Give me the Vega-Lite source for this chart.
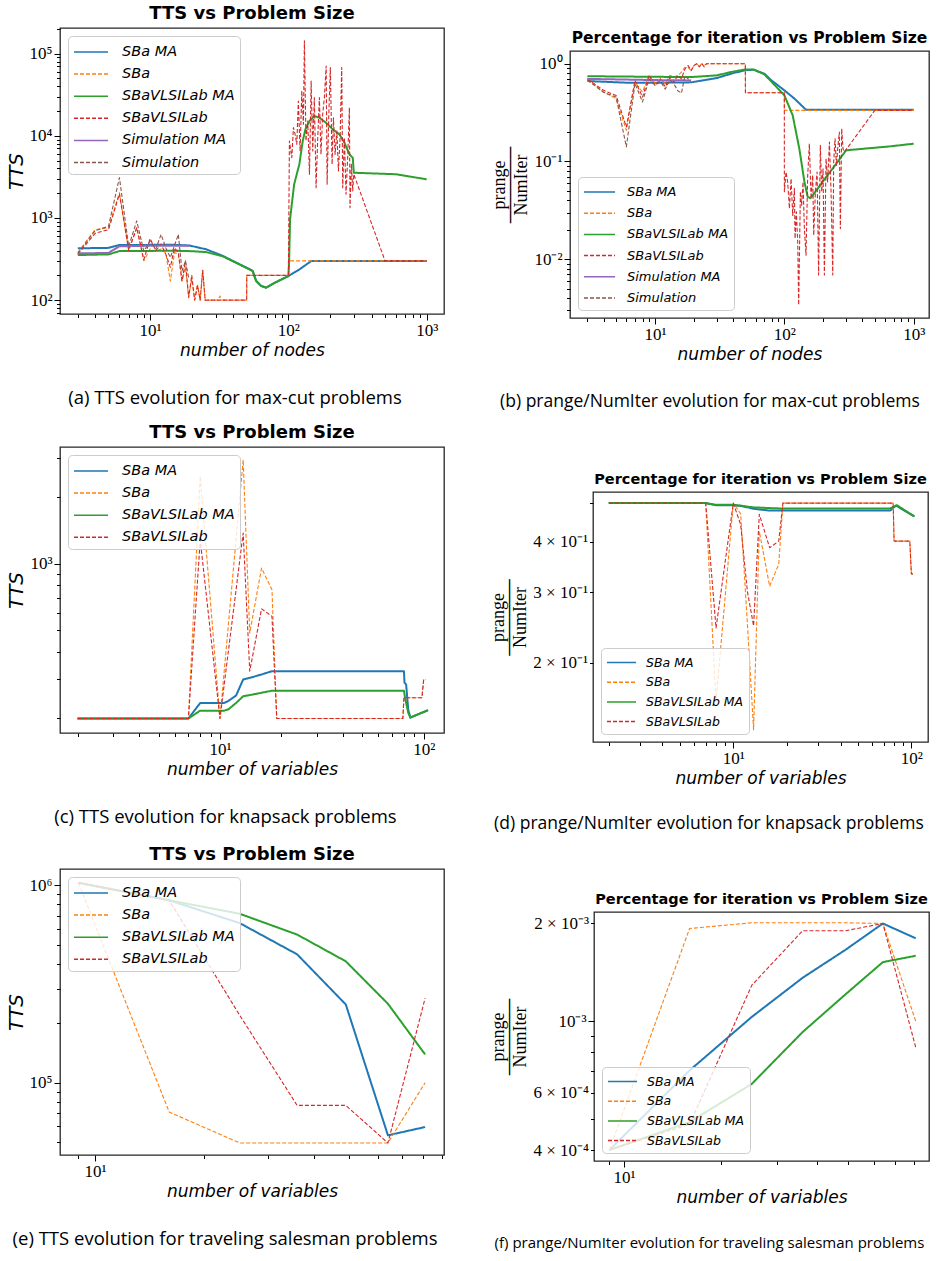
{
"$schema": "https://vega.github.io/schema/vega-lite/v6.json",
"padding": {"left": 5, "top": 4, "right": 4, "bottom": 4},
"config": {
 "font": "DejaVu Sans",
 "view": {"stroke": "#262626", "strokeWidth": 1.3},
 "axis": {"domain": false, "grid": false, "labelFont": "Liberation Serif", "labelFontSize": 17, "labelColor": "#000", "tickColor": "#000", "tickWidth": 1, "labelOverlap": false, "labelFlush": false, "labelPadding": 2, "titleFont": "DejaVu Sans", "titleFontStyle": "italic", "titleFontWeight": "normal", "titleFontSize": 17, "titleColor": "#000"},
 "axisY": {"titleFontSize": 20, "titlePadding": 3},
 "axisX": {"titlePadding": 4},
 "title": {"font": "DejaVu Sans", "fontSize": 18, "fontWeight": "bold", "color": "#000", "offset": 5},
 "legend": {"labelFont": "DejaVu Sans", "labelFontStyle": "italic", "labelColor": "#000", "fillColor": "rgba(255,255,255,0.8)", "strokeColor": "#cccccc", "cornerRadius": 4},
 "line": {"strokeCap": "butt", "strokeJoin": "round", "clip": true}
},
"datasets": {
 "a": [
  {"s":"SBa MA","x":3,"y":427},{"s":"SBa MA","x":5,"y":432},{"s":"SBa MA","x":6,"y":468},{"s":"SBa MA","x":10,"y":470},{"s":"SBa MA","x":15,"y":470},{"s":"SBa MA","x":19.2,"y":462},{"s":"SBa MA","x":25.4,"y":415},{"s":"SBa MA","x":33.6,"y":345},{"s":"SBa MA","x":41.9,"y":286},{"s":"SBa MA","x":52.3,"y":238},{"s":"SBa MA","x":55.2,"y":226},{"s":"SBa MA","x":58.4,"y":172},{"s":"SBa MA","x":63.5,"y":149},{"s":"SBa MA","x":69,"y":142},{"s":"SBa MA","x":80,"y":163},{"s":"SBa MA","x":100,"y":196},{"s":"SBa MA","x":120,"y":236},{"s":"SBa MA","x":146,"y":298},{"s":"SBa MA","x":1000,"y":298},
  {"s":"SBa","x":3,"y":380},{"s":"SBa","x":4,"y":720},{"s":"SBa","x":5,"y":760},{"s":"SBa","x":6,"y":2030},{"s":"SBa","x":7,"y":410},{"s":"SBa","x":8,"y":760},{"s":"SBa","x":9,"y":300},{"s":"SBa","x":10,"y":420},{"s":"SBa","x":11,"y":390},{"s":"SBa","x":12,"y":420},{"s":"SBa","x":13,"y":370},{"s":"SBa","x":14,"y":170},{"s":"SBa","x":15,"y":380},{"s":"SBa","x":16,"y":360},{"s":"SBa","x":17,"y":170},{"s":"SBa","x":18,"y":250},{"s":"SBa","x":19,"y":110},{"s":"SBa","x":20,"y":180},{"s":"SBa","x":21,"y":100},{"s":"SBa","x":22,"y":155},{"s":"SBa","x":23,"y":100},{"s":"SBa","x":24,"y":230},{"s":"SBa","x":25,"y":100},{"s":"SBa","x":31,"y":100},{"s":"SBa","x":32,"y":112},{"s":"SBa","x":33,"y":100},{"s":"SBa","x":49.9,"y":100},{"s":"SBa","x":50,"y":200},{"s":"SBa","x":99.9,"y":200},{"s":"SBa","x":100,"y":300},{"s":"SBa","x":1000,"y":300},
  {"s":"SBaVLSILab MA","x":3,"y":353},{"s":"SBaVLSILab MA","x":5,"y":360},{"s":"SBaVLSILab MA","x":6,"y":395},{"s":"SBaVLSILab MA","x":10,"y":397},{"s":"SBaVLSILab MA","x":15,"y":398},{"s":"SBaVLSILab MA","x":19.2,"y":395},{"s":"SBaVLSILab MA","x":25.4,"y":384},{"s":"SBaVLSILab MA","x":33.6,"y":340},{"s":"SBaVLSILab MA","x":41.9,"y":284},{"s":"SBaVLSILab MA","x":52.3,"y":236},{"s":"SBaVLSILab MA","x":55.2,"y":225},{"s":"SBaVLSILab MA","x":58.4,"y":170},{"s":"SBaVLSILab MA","x":63.5,"y":148},{"s":"SBaVLSILab MA","x":69,"y":141},{"s":"SBaVLSILab MA","x":80,"y":163},{"s":"SBaVLSILab MA","x":100,"y":196},{"s":"SBaVLSILab MA","x":101,"y":260},{"s":"SBaVLSILab MA","x":102.8,"y":962},{"s":"SBaVLSILab MA","x":110,"y":2565},{"s":"SBaVLSILab MA","x":120,"y":4500},{"s":"SBaVLSILab MA","x":127,"y":8650},{"s":"SBaVLSILab MA","x":132.8,"y":12000},{"s":"SBaVLSILab MA","x":142,"y":15100},{"s":"SBaVLSILab MA","x":154,"y":17400},{"s":"SBaVLSILab MA","x":167.6,"y":16600},{"s":"SBaVLSILab MA","x":187,"y":14400},{"s":"SBaVLSILab MA","x":209,"y":12000},{"s":"SBaVLSILab MA","x":234,"y":10400},{"s":"SBaVLSILab MA","x":254,"y":8250},{"s":"SBaVLSILab MA","x":276,"y":5960},{"s":"SBaVLSILab MA","x":292,"y":5400},{"s":"SBaVLSILab MA","x":297,"y":3550},{"s":"SBaVLSILab MA","x":601,"y":3400},{"s":"SBaVLSILab MA","x":1000,"y":2950},
  {"s":"SBaVLSILab","x":3,"y":360},{"s":"SBaVLSILab","x":4,"y":650},{"s":"SBaVLSILab","x":5,"y":720},{"s":"SBaVLSILab","x":6,"y":1950},{"s":"SBaVLSILab","x":7,"y":400},{"s":"SBaVLSILab","x":8,"y":760},{"s":"SBaVLSILab","x":9,"y":310},{"s":"SBaVLSILab","x":10,"y":560},{"s":"SBaVLSILab","x":11,"y":400},{"s":"SBaVLSILab","x":12,"y":480},{"s":"SBaVLSILab","x":13,"y":360},{"s":"SBaVLSILab","x":14,"y":250},{"s":"SBaVLSILab","x":15,"y":430},{"s":"SBaVLSILab","x":16,"y":380},{"s":"SBaVLSILab","x":17,"y":170},{"s":"SBaVLSILab","x":18,"y":300},{"s":"SBaVLSILab","x":19,"y":107},{"s":"SBaVLSILab","x":20,"y":200},{"s":"SBaVLSILab","x":21,"y":100},{"s":"SBaVLSILab","x":22,"y":150},{"s":"SBaVLSILab","x":23,"y":100},{"s":"SBaVLSILab","x":24,"y":230},{"s":"SBaVLSILab","x":25,"y":100},{"s":"SBaVLSILab","x":49.9,"y":100},{"s":"SBaVLSILab","x":50,"y":200},{"s":"SBaVLSILab","x":100,"y":200},{"s":"SBaVLSILab","x":101.7,"y":8650},{"s":"SBaVLSILab","x":105.8,"y":5400},{"s":"SBaVLSILab","x":108.7,"y":12600},{"s":"SBaVLSILab","x":111.8,"y":10400},{"s":"SBaVLSILab","x":115,"y":7870},{"s":"SBaVLSILab","x":118,"y":26500},{"s":"SBaVLSILab","x":121.5,"y":6530},{"s":"SBaVLSILab","x":125,"y":35200},{"s":"SBaVLSILab","x":128.4,"y":13800},{"s":"SBaVLSILab","x":130.5,"y":143000},{"s":"SBaVLSILab","x":134,"y":8650},{"s":"SBaVLSILab","x":138,"y":15100},{"s":"SBaVLSILab","x":142,"y":3400},{"s":"SBaVLSILab","x":146,"y":46500},{"s":"SBaVLSILab","x":150,"y":6530},{"s":"SBaVLSILab","x":154,"y":29100},{"s":"SBaVLSILab","x":158.5,"y":2330},{"s":"SBaVLSILab","x":163,"y":9490},{"s":"SBaVLSILab","x":167.5,"y":29100},{"s":"SBaVLSILab","x":172,"y":5940},{"s":"SBaVLSILab","x":177,"y":18300},{"s":"SBaVLSILab","x":182,"y":29100},{"s":"SBaVLSILab","x":187.5,"y":70800},{"s":"SBaVLSILab","x":190.5,"y":2570},{"s":"SBaVLSILab","x":196,"y":18300},{"s":"SBaVLSILab","x":201,"y":67600},{"s":"SBaVLSILab","x":207,"y":4500},{"s":"SBaVLSILab","x":211.6,"y":16600},{"s":"SBaVLSILab","x":217.6,"y":5940},{"s":"SBaVLSILab","x":224,"y":11400},{"s":"SBaVLSILab","x":230,"y":3720},{"s":"SBaVLSILab","x":236.5,"y":9490},{"s":"SBaVLSILab","x":243,"y":67600},{"s":"SBaVLSILab","x":247,"y":2330},{"s":"SBaVLSILab","x":254,"y":9490},{"s":"SBaVLSILab","x":261,"y":1940},{"s":"SBaVLSILab","x":269,"y":5940},{"s":"SBaVLSILab","x":276,"y":22000},{"s":"SBaVLSILab","x":279,"y":1330},{"s":"SBaVLSILab","x":285.5,"y":4500},{"s":"SBaVLSILab","x":292,"y":2130},{"s":"SBaVLSILab","x":297,"y":3400},{"s":"SBaVLSILab","x":500,"y":300},{"s":"SBaVLSILab","x":1000,"y":300},
  {"s":"Simulation MA","x":3,"y":370},{"s":"Simulation MA","x":5,"y":375},{"s":"Simulation MA","x":6,"y":452},{"s":"Simulation MA","x":10,"y":458},{"s":"Simulation MA","x":19.2,"y":460},
  {"s":"Simulation","x":3,"y":370},{"s":"Simulation","x":4,"y":700},{"s":"Simulation","x":5,"y":790},{"s":"Simulation","x":6,"y":3090},{"s":"Simulation","x":7,"y":450},{"s":"Simulation","x":8,"y":920},{"s":"Simulation","x":9,"y":395},{"s":"Simulation","x":10,"y":520},{"s":"Simulation","x":11,"y":420},{"s":"Simulation","x":12,"y":630},{"s":"Simulation","x":13,"y":430},{"s":"Simulation","x":14,"y":330},{"s":"Simulation","x":15,"y":460},{"s":"Simulation","x":16,"y":630},{"s":"Simulation","x":17,"y":225},{"s":"Simulation","x":18,"y":300},{"s":"Simulation","x":19,"y":187}
 ],
 "b": [
  {"s":"SBa MA","x":3,"y":0.665},{"s":"SBa MA","x":6,"y":0.64},{"s":"SBa MA","x":12,"y":0.64},{"s":"SBa MA","x":19,"y":0.645},{"s":"SBa MA","x":30,"y":0.714},{"s":"SBa MA","x":40,"y":0.8},{"s":"SBa MA","x":50,"y":0.86},{"s":"SBa MA","x":58,"y":0.868},{"s":"SBa MA","x":70,"y":0.79},{"s":"SBa MA","x":79,"y":0.68},{"s":"SBa MA","x":100,"y":0.534},{"s":"SBa MA","x":119.5,"y":0.44},{"s":"SBa MA","x":147,"y":0.338},{"s":"SBa MA","x":1000,"y":0.338},
  {"s":"SBa","x":3,"y":0.7},{"s":"SBa","x":4,"y":0.513},{"s":"SBa","x":5,"y":0.44},{"s":"SBa","x":6,"y":0.208},{"s":"SBa","x":7,"y":0.65},{"s":"SBa","x":8,"y":0.513},{"s":"SBa","x":9,"y":0.76},{"s":"SBa","x":10,"y":0.625},{"s":"SBa","x":11,"y":0.7},{"s":"SBa","x":12,"y":0.625},{"s":"SBa","x":13,"y":0.76},{"s":"SBa","x":14,"y":0.73},{"s":"SBa","x":15,"y":0.76},{"s":"SBa","x":16,"y":0.82},{"s":"SBa","x":17,"y":0.92},{"s":"SBa","x":18,"y":0.92},{"s":"SBa","x":19,"y":0.85},{"s":"SBa","x":20,"y":0.96},{"s":"SBa","x":21,"y":1.0},{"s":"SBa","x":22,"y":0.95},{"s":"SBa","x":23,"y":1.0},{"s":"SBa","x":24,"y":0.96},{"s":"SBa","x":25,"y":1.0},{"s":"SBa","x":49.9,"y":1.0},{"s":"SBa","x":50,"y":0.505},{"s":"SBa","x":99.9,"y":0.505},{"s":"SBa","x":100,"y":0.333},{"s":"SBa","x":1000,"y":0.333},
  {"s":"SBaVLSILab MA","x":3,"y":0.745},{"s":"SBaVLSILab MA","x":10,"y":0.735},{"s":"SBaVLSILab MA","x":19,"y":0.73},{"s":"SBaVLSILab MA","x":30,"y":0.76},{"s":"SBaVLSILab MA","x":40,"y":0.83},{"s":"SBaVLSILab MA","x":50,"y":0.875},{"s":"SBaVLSILab MA","x":58,"y":0.87},{"s":"SBaVLSILab MA","x":70,"y":0.78},{"s":"SBaVLSILab MA","x":79,"y":0.66},{"s":"SBaVLSILab MA","x":100,"y":0.475},{"s":"SBaVLSILab MA","x":116,"y":0.296},{"s":"SBaVLSILab MA","x":130.5,"y":0.135},{"s":"SBaVLSILab MA","x":143,"y":0.0616},{"s":"SBaVLSILab MA","x":151.5,"y":0.0435},{"s":"SBaVLSILab MA","x":159,"y":0.042},{"s":"SBaVLSILab MA","x":181,"y":0.0528},{"s":"SBaVLSILab MA","x":216,"y":0.0724},{"s":"SBaVLSILab MA","x":258,"y":0.099},{"s":"SBaVLSILab MA","x":300,"y":0.13},{"s":"SBaVLSILab MA","x":668,"y":0.143},{"s":"SBaVLSILab MA","x":1000,"y":0.152},
  {"s":"SBaVLSILab","x":3,"y":0.7},{"s":"SBaVLSILab","x":4,"y":0.534},{"s":"SBaVLSILab","x":5,"y":0.474},{"s":"SBaVLSILab","x":6,"y":0.225},{"s":"SBaVLSILab","x":7,"y":0.676},{"s":"SBaVLSILab","x":8,"y":0.456},{"s":"SBaVLSILab","x":9,"y":0.76},{"s":"SBaVLSILab","x":10,"y":0.6},{"s":"SBaVLSILab","x":11,"y":0.7},{"s":"SBaVLSILab","x":12,"y":0.58},{"s":"SBaVLSILab","x":13,"y":0.72},{"s":"SBaVLSILab","x":14,"y":0.65},{"s":"SBaVLSILab","x":15,"y":0.76},{"s":"SBaVLSILab","x":16,"y":0.7},{"s":"SBaVLSILab","x":17,"y":0.88},{"s":"SBaVLSILab","x":18,"y":0.96},{"s":"SBaVLSILab","x":19,"y":0.85},{"s":"SBaVLSILab","x":20,"y":0.96},{"s":"SBaVLSILab","x":21,"y":1.0},{"s":"SBaVLSILab","x":22,"y":0.93},{"s":"SBaVLSILab","x":23,"y":1.0},{"s":"SBaVLSILab","x":24,"y":0.93},{"s":"SBaVLSILab","x":25,"y":1.0},{"s":"SBaVLSILab","x":49.9,"y":1.0},{"s":"SBaVLSILab","x":50,"y":0.505},{"s":"SBaVLSILab","x":99.9,"y":0.505},{"s":"SBaVLSILab","x":100,"y":0.049},{"s":"SBaVLSILab","x":103,"y":0.0781},{"s":"SBaVLSILab","x":106,"y":0.0617},{"s":"SBaVLSILab","x":109.4,"y":0.033},{"s":"SBaVLSILab","x":112.7,"y":0.0665},{"s":"SBaVLSILab","x":116,"y":0.028},{"s":"SBaVLSILab","x":119.5,"y":0.053},{"s":"SBaVLSILab","x":121,"y":0.0163},{"s":"SBaVLSILab","x":123.8,"y":0.0305},{"s":"SBaVLSILab","x":126.8,"y":0.0151},{"s":"SBaVLSILab","x":129,"y":0.0034},{"s":"SBaVLSILab","x":133,"y":0.049},{"s":"SBaVLSILab","x":136,"y":0.0357},{"s":"SBaVLSILab","x":139.4,"y":0.0617},{"s":"SBaVLSILab","x":142.8,"y":0.0205},{"s":"SBaVLSILab","x":147,"y":0.011},{"s":"SBaVLSILab","x":151.5,"y":0.0723},{"s":"SBaVLSILab","x":156,"y":0.152},{"s":"SBaVLSILab","x":160.8,"y":0.0417},{"s":"SBaVLSILab","x":165.6,"y":0.0723},{"s":"SBaVLSILab","x":168.6,"y":0.0176},{"s":"SBaVLSILab","x":173.7,"y":0.049},{"s":"SBaVLSILab","x":179,"y":0.0781},{"s":"SBaVLSILab","x":184,"y":0.0069},{"s":"SBaVLSILab","x":189.7,"y":0.146},{"s":"SBaVLSILab","x":194.4,"y":0.049},{"s":"SBaVLSILab","x":199,"y":0.0843},{"s":"SBaVLSILab","x":203.9,"y":0.0069},{"s":"SBaVLSILab","x":210,"y":0.107},{"s":"SBaVLSILab","x":216,"y":0.0617},{"s":"SBaVLSILab","x":223,"y":0.158},{"s":"SBaVLSILab","x":229.6,"y":0.049},{"s":"SBaVLSILab","x":236.6,"y":0.0069},{"s":"SBaVLSILab","x":240.6,"y":0.0987},{"s":"SBaVLSILab","x":246.5,"y":0.171},{"s":"SBaVLSILab","x":252.6,"y":0.091},{"s":"SBaVLSILab","x":258.4,"y":0.135},{"s":"SBaVLSILab","x":266,"y":0.2},{"s":"SBaVLSILab","x":271,"y":0.0205},{"s":"SBaVLSILab","x":277.6,"y":0.217},{"s":"SBaVLSILab","x":284,"y":0.135},{"s":"SBaVLSILab","x":291,"y":0.125},{"s":"SBaVLSILab","x":500,"y":0.333},{"s":"SBaVLSILab","x":1000,"y":0.333},
  {"s":"Simulation MA","x":3,"y":0.7},{"s":"Simulation MA","x":10,"y":0.68},{"s":"Simulation MA","x":19,"y":0.675},
  {"s":"Simulation","x":3,"y":0.68},{"s":"Simulation","x":4,"y":0.51},{"s":"Simulation","x":5,"y":0.456},{"s":"Simulation","x":6,"y":0.141},{"s":"Simulation","x":7,"y":0.63},{"s":"Simulation","x":8,"y":0.406},{"s":"Simulation","x":9,"y":0.7},{"s":"Simulation","x":10,"y":0.6},{"s":"Simulation","x":11,"y":0.66},{"s":"Simulation","x":12,"y":0.55},{"s":"Simulation","x":13,"y":0.68},{"s":"Simulation","x":14,"y":0.62},{"s":"Simulation","x":15,"y":0.53},{"s":"Simulation","x":16,"y":0.5},{"s":"Simulation","x":17,"y":0.75},{"s":"Simulation","x":18,"y":0.7},{"s":"Simulation","x":19,"y":0.68}
 ],
 "c": [
  {"s":"SBa MA","x":2,"y":200},{"s":"SBa MA","x":7,"y":200},{"s":"SBa MA","x":8,"y":235},{"s":"SBa MA","x":10.5,"y":235},{"s":"SBa MA","x":11,"y":240},{"s":"SBa MA","x":12,"y":254},{"s":"SBa MA","x":13,"y":300},{"s":"SBa MA","x":14,"y":305},{"s":"SBa MA","x":16,"y":316},{"s":"SBa MA","x":18,"y":327},{"s":"SBa MA","x":80,"y":327},{"s":"SBa MA","x":80.5,"y":290},{"s":"SBa MA","x":82,"y":285},{"s":"SBa MA","x":84,"y":219},{"s":"SBa MA","x":86,"y":202},{"s":"SBa MA","x":105,"y":218},
  {"s":"SBa","x":2,"y":200},{"s":"SBa","x":7,"y":200},{"s":"SBa","x":8,"y":2480},{"s":"SBa","x":10,"y":200},{"s":"SBa","x":13,"y":2940},{"s":"SBa","x":14,"y":486},{"s":"SBa","x":16,"y":955},{"s":"SBa","x":18,"y":763},{"s":"SBa","x":19,"y":200},{"s":"SBa","x":79,"y":200},{"s":"SBa","x":80,"y":248},{"s":"SBa","x":98,"y":248},{"s":"SBa","x":100,"y":300},{"s":"SBa","x":102,"y":300},
  {"s":"SBaVLSILab MA","x":2,"y":200},{"s":"SBaVLSILab MA","x":7,"y":200},{"s":"SBaVLSILab MA","x":8,"y":217},{"s":"SBaVLSILab MA","x":10.5,"y":217},{"s":"SBaVLSILab MA","x":11,"y":220},{"s":"SBaVLSILab MA","x":12,"y":235},{"s":"SBaVLSILab MA","x":13,"y":252},{"s":"SBaVLSILab MA","x":14,"y":255},{"s":"SBaVLSILab MA","x":18,"y":267},{"s":"SBaVLSILab MA","x":80,"y":267},{"s":"SBaVLSILab MA","x":81,"y":248},{"s":"SBaVLSILab MA","x":84,"y":212},{"s":"SBaVLSILab MA","x":86,"y":202},{"s":"SBaVLSILab MA","x":105,"y":218},
  {"s":"SBaVLSILab","x":2,"y":200},{"s":"SBaVLSILab","x":7,"y":200},{"s":"SBaVLSILab","x":8,"y":1280},{"s":"SBaVLSILab","x":10,"y":200},{"s":"SBaVLSILab","x":13,"y":1375},{"s":"SBaVLSILab","x":14,"y":327},{"s":"SBaVLSILab","x":16,"y":625},{"s":"SBaVLSILab","x":18,"y":578},{"s":"SBaVLSILab","x":19,"y":200},{"s":"SBaVLSILab","x":79,"y":200},{"s":"SBaVLSILab","x":80,"y":248},{"s":"SBaVLSILab","x":98,"y":248},{"s":"SBaVLSILab","x":100,"y":300},{"s":"SBaVLSILab","x":102,"y":300}
 ],
 "d": [
  {"s":"SBa MA","x":2,"y":0.5},{"s":"SBa MA","x":7,"y":0.5},{"s":"SBa MA","x":8,"y":0.494},{"s":"SBa MA","x":10,"y":0.494},{"s":"SBa MA","x":11,"y":0.492},{"s":"SBa MA","x":12,"y":0.488},{"s":"SBa MA","x":13,"y":0.484},{"s":"SBa MA","x":16,"y":0.479},{"s":"SBa MA","x":18,"y":0.479},{"s":"SBa MA","x":76,"y":0.479},{"s":"SBa MA","x":82,"y":0.493},{"s":"SBa MA","x":104,"y":0.463},
  {"s":"SBa","x":2,"y":0.5},{"s":"SBa","x":7,"y":0.5},{"s":"SBa","x":8,"y":0.16},{"s":"SBa","x":10,"y":0.5},{"s":"SBa","x":11,"y":0.47},{"s":"SBa","x":12,"y":0.25},{"s":"SBa","x":13,"y":0.136},{"s":"SBa","x":14,"y":0.425},{"s":"SBa","x":16,"y":0.31},{"s":"SBa","x":18,"y":0.352},{"s":"SBa","x":19,"y":0.5},{"s":"SBa","x":79,"y":0.5},{"s":"SBa","x":80,"y":0.402},{"s":"SBa","x":98,"y":0.402},{"s":"SBa","x":100,"y":0.333},{"s":"SBa","x":102,"y":0.333},
  {"s":"SBaVLSILab MA","x":2,"y":0.5},{"s":"SBaVLSILab MA","x":7,"y":0.5},{"s":"SBaVLSILab MA","x":8,"y":0.495},{"s":"SBaVLSILab MA","x":10,"y":0.495},{"s":"SBaVLSILab MA","x":11,"y":0.493},{"s":"SBaVLSILab MA","x":12,"y":0.49},{"s":"SBaVLSILab MA","x":13,"y":0.488},{"s":"SBaVLSILab MA","x":16,"y":0.486},{"s":"SBaVLSILab MA","x":18,"y":0.485},{"s":"SBaVLSILab MA","x":76,"y":0.485},{"s":"SBaVLSILab MA","x":83,"y":0.494},{"s":"SBaVLSILab MA","x":104,"y":0.463},
  {"s":"SBaVLSILab","x":2,"y":0.5},{"s":"SBaVLSILab","x":7,"y":0.5},{"s":"SBaVLSILab","x":8,"y":0.244},{"s":"SBaVLSILab","x":10,"y":0.5},{"s":"SBaVLSILab","x":11,"y":0.442},{"s":"SBaVLSILab","x":12,"y":0.301},{"s":"SBaVLSILab","x":13,"y":0.247},{"s":"SBaVLSILab","x":14,"y":0.469},{"s":"SBaVLSILab","x":16,"y":0.387},{"s":"SBaVLSILab","x":18,"y":0.402},{"s":"SBaVLSILab","x":19,"y":0.5},{"s":"SBaVLSILab","x":79,"y":0.5},{"s":"SBaVLSILab","x":80,"y":0.402},{"s":"SBaVLSILab","x":98,"y":0.402},{"s":"SBaVLSILab","x":100,"y":0.333},{"s":"SBaVLSILab","x":102,"y":0.333}
 ],
 "e": [
  {"s":"SBa MA","x":9,"y":1030000},{"s":"SBa MA","x":16,"y":840000},{"s":"SBa MA","x":25,"y":644000},{"s":"SBa MA","x":36,"y":447000},{"s":"SBa MA","x":49,"y":249000},{"s":"SBa MA","x":64,"y":54100},{"s":"SBa MA","x":81,"y":59600},
  {"s":"SBa","x":9,"y":1030000},{"s":"SBa","x":16,"y":71000},{"s":"SBa","x":25,"y":49500},{"s":"SBa","x":36,"y":49500},{"s":"SBa","x":49,"y":49500},{"s":"SBa","x":64,"y":49500},{"s":"SBa","x":81,"y":100000},
  {"s":"SBaVLSILab MA","x":9,"y":1030000},{"s":"SBaVLSILab MA","x":16,"y":840000},{"s":"SBaVLSILab MA","x":25,"y":718000},{"s":"SBaVLSILab MA","x":36,"y":563000},{"s":"SBaVLSILab MA","x":49,"y":412000},{"s":"SBaVLSILab MA","x":64,"y":251000},{"s":"SBaVLSILab MA","x":81,"y":139000},
  {"s":"SBaVLSILab","x":9,"y":1030000},{"s":"SBaVLSILab","x":16,"y":840000},{"s":"SBaVLSILab","x":25,"y":220000},{"s":"SBaVLSILab","x":36,"y":76700},{"s":"SBaVLSILab","x":49,"y":76700},{"s":"SBaVLSILab","x":64,"y":49500},{"s":"SBaVLSILab","x":81,"y":268000}
 ],
 "f": [
  {"s":"SBa MA","x":9,"y":0.0004},{"s":"SBa MA","x":16,"y":0.000704},{"s":"SBa MA","x":25,"y":0.00103},{"s":"SBa MA","x":36,"y":0.00136},{"s":"SBa MA","x":49,"y":0.00166},{"s":"SBa MA","x":64,"y":0.002},{"s":"SBa MA","x":81,"y":0.0018},
  {"s":"SBa","x":9,"y":0.0004},{"s":"SBa","x":16,"y":0.00193},{"s":"SBa","x":25,"y":0.00201},{"s":"SBa","x":36,"y":0.00201},{"s":"SBa","x":49,"y":0.00201},{"s":"SBa","x":64,"y":0.002},{"s":"SBa","x":81,"y":0.001},
  {"s":"SBaVLSILab MA","x":9,"y":0.0004},{"s":"SBaVLSILab MA","x":16,"y":0.000488},{"s":"SBaVLSILab MA","x":25,"y":0.00064},{"s":"SBaVLSILab MA","x":36,"y":0.000925},{"s":"SBaVLSILab MA","x":49,"y":0.00121},{"s":"SBaVLSILab MA","x":64,"y":0.00152},{"s":"SBaVLSILab MA","x":81,"y":0.00159},
  {"s":"SBaVLSILab","x":9,"y":0.0004},{"s":"SBaVLSILab","x":16,"y":0.00048},{"s":"SBaVLSILab","x":25,"y":0.00129},{"s":"SBaVLSILab","x":36,"y":0.0019},{"s":"SBaVLSILab","x":49,"y":0.0019},{"s":"SBaVLSILab","x":64,"y":0.002},{"s":"SBaVLSILab","x":81,"y":0.00083}
 ]
},
"resolve": {"scale": {"color": "independent", "strokeDash": "independent"}},
"spacing": 12,
"vconcat": [
 {"hconcat": [
  {"vconcat": [{
   "width": 384, "height": 286,
   "title": {"text": "TTS vs Problem Size"},
   "data": {"name": "a"},
   "mark": {"type": "line"},
   "encoding": {
    "x": {"field": "x", "type": "quantitative", "scale": {"type": "log", "domain": [2.23, 1334], "nice": false},
     "axis": {"title": "number of nodes", "values": [3,4,5,6,7,8,9,10,20,30,40,50,60,70,80,90,100,200,300,400,500,600,700,800,900,1000],
      "labelExpr": "datum.value == 10 ? '10¹' : datum.value == 100 ? '10²' : datum.value == 1000 ? '10³' : ''",
      "labelFontSize": {"condition": {"test": "datum.value == 10 || datum.value == 100 || datum.value == 1000", "value": 17}, "value": 0},
      "tickSize": {"condition": {"test": "datum.value == 10 || datum.value == 100 || datum.value == 1000", "value": 6}, "value": 3.5}}},
    "y": {"field": "y", "type": "quantitative", "scale": {"type": "log", "domain": [67.7, 205000], "nice": false},
     "axis": {"title": "TTS", "values": [70,80,90,100,200,300,400,500,600,700,800,900,1000,2000,3000,4000,5000,6000,7000,8000,9000,10000,20000,30000,40000,50000,60000,70000,80000,90000,100000,200000],
      "labelExpr": "datum.value == 100 ? '10²' : datum.value == 1000 ? '10³' : datum.value == 10000 ? '10⁴' : datum.value == 100000 ? '10⁵' : ''",
      "labelFontSize": {"condition": {"test": "datum.value == 100 || datum.value == 1000 || datum.value == 10000 || datum.value == 100000", "value": 17}, "value": 0},
      "tickSize": {"condition": {"test": "datum.value == 100 || datum.value == 1000 || datum.value == 10000 || datum.value == 100000", "value": 6}, "value": 3.5}}},
    "color": {"field": "s", "type": "nominal", "scale": {"domain": ["SBa MA","SBa","SBaVLSILab MA","SBaVLSILab","Simulation MA","Simulation"], "range": ["#1f77b4","#ff7f0e","#2ca02c","#d62728","#9467bd","#8c564b"]},
     "legend": {"orient": "top-left", "offset": 8, "title": null, "symbolType": "M-1,0L2.4,0", "symbolSize": 400, "labelFontSize": 14.5, "rowPadding": 4.1, "labelOffset": 27, "padding": 5, "encode": {"symbols": {"update": {"strokeWidth": {"signal": "indexof(datum.value, 'MA') >= 0 ? 2.4 : 1.3"}}}}}},
    "strokeDash": {"field": "s", "type": "nominal", "scale": {"domain": ["SBa MA","SBa","SBaVLSILab MA","SBaVLSILab","Simulation MA","Simulation"], "range": [[1,0],[4,2],[1,0],[4,2],[1,0],[4,2]]},
     "legend": {"orient": "top-left", "offset": 8, "title": null, "symbolType": "M-1,0L2.4,0", "symbolSize": 400, "labelFontSize": 14.5, "rowPadding": 4.1, "labelOffset": 27, "padding": 5, "encode": {"symbols": {"update": {"strokeWidth": {"signal": "indexof(datum.value, 'MA') >= 0 ? 2.4 : 1.3"}}}}}},
    "strokeWidth": {"condition": {"test": "indexof(datum.s, 'MA') >= 0", "value": 2}, "value": 1.1}
   }
  }],
  "title": {"text": "(a) TTS evolution for max-cut problems", "orient": "bottom", "anchor": "middle", "font": "Open Sans", "fontSize": 18.5, "fontWeight": "normal", "offset": 30, "dx": 10},
  "spacing": 0,
  "resolve": {"scale": {"color": "independent", "strokeDash": "independent"}}},
  {"vconcat": [
   {"width": 10, "height": 1, "view": {"stroke": null}, "data": {"values": [{}]}, "mark": {"type": "point", "opacity": 0, "size": 0}, "encoding": {}},
   {
   "width": 359, "height": 267,
   "title": {"text": "Percentage for iteration vs Problem Size", "fontSize": 15.5},
   "data": {"name": "b"},
   "mark": {"type": "line"},
   "encoding": {
    "x": {"field": "x", "type": "quantitative", "scale": {"type": "log", "domain": [2.2, 1313], "nice": false},
     "axis": {"title": "number of nodes", "values": [3,4,5,6,7,8,9,10,20,30,40,50,60,70,80,90,100,200,300,400,500,600,700,800,900,1000],
      "labelExpr": "datum.value == 10 ? '10¹' : datum.value == 100 ? '10²' : datum.value == 1000 ? '10³' : ''",
      "labelFontSize": {"condition": {"test": "datum.value == 10 || datum.value == 100 || datum.value == 1000", "value": 17}, "value": 0},
      "tickSize": {"condition": {"test": "datum.value == 10 || datum.value == 100 || datum.value == 1000", "value": 6}, "value": 3.5}}},
    "y": {"field": "y", "type": "quantitative", "scale": {"type": "log", "domain": [0.0025, 1.35], "nice": false},
     "axis": {"title": ["prange", "──────", "NumIter"], "titleFont": "Liberation Serif", "titleFontStyle": "normal", "titleFontSize": 18, "titleLineHeight": 11, "values": [0.003,0.004,0.005,0.006,0.007,0.008,0.009,0.01,0.02,0.03,0.04,0.05,0.06,0.07,0.08,0.09,0.1,0.2,0.3,0.4,0.5,0.6,0.7,0.8,0.9,1],
      "labelExpr": "datum.value == 1 ? '10⁰' : datum.value == 0.1 ? '10⁻¹' : datum.value == 0.01 ? '10⁻²' : ''",
      "labelFontSize": {"condition": {"test": "datum.value == 0.01 || datum.value == 0.1 || datum.value == 1", "value": 17}, "value": 0},
      "tickSize": {"condition": {"test": "datum.value == 0.01 || datum.value == 0.1 || datum.value == 1", "value": 6}, "value": 3.5}}},
    "color": {"field": "s", "type": "nominal", "scale": {"domain": ["SBa MA","SBa","SBaVLSILab MA","SBaVLSILab","Simulation MA","Simulation"], "range": ["#1f77b4","#ff7f0e","#2ca02c","#d62728","#9467bd","#8c564b"]},
     "legend": {"orient": "bottom-left", "offset": 8, "title": null, "symbolType": "M-1,0L2.45,0", "symbolSize": 324, "labelFontSize": 13, "rowPadding": 4.2, "labelOffset": 24, "padding": 5, "encode": {"symbols": {"update": {"strokeWidth": {"signal": "indexof(datum.value, 'MA') >= 0 ? 2.3 : 1.3"}}}}}},
    "strokeDash": {"field": "s", "type": "nominal", "scale": {"domain": ["SBa MA","SBa","SBaVLSILab MA","SBaVLSILab","Simulation MA","Simulation"], "range": [[1,0],[4,2],[1,0],[4,2],[1,0],[4,2]]},
     "legend": {"orient": "bottom-left", "offset": 8, "title": null, "symbolType": "M-1,0L2.45,0", "symbolSize": 324, "labelFontSize": 13, "rowPadding": 4.2, "labelOffset": 24, "padding": 5, "encode": {"symbols": {"update": {"strokeWidth": {"signal": "indexof(datum.value, 'MA') >= 0 ? 2.3 : 1.3"}}}}}},
    "strokeWidth": {"condition": {"test": "indexof(datum.s, 'MA') >= 0", "value": 2}, "value": 1.1}
   }
  }],
  "title": {"text": "(b) prange/NumIter evolution for max-cut problems", "orient": "bottom", "anchor": "middle", "font": "Open Sans", "fontSize": 17.5, "fontWeight": "normal", "offset": 30},
  "spacing": 0,
  "resolve": {"scale": {"color": "independent", "strokeDash": "independent"}}}
 ], "spacing": 45, "align": "none", "resolve": {"scale": {"color": "independent", "strokeDash": "independent"}}},
 {"hconcat": [
  {"vconcat": [{
   "width": 384, "height": 286,
   "title": {"text": "TTS vs Problem Size"},
   "data": {"name": "c"},
   "mark": {"type": "line"},
   "encoding": {
    "x": {"field": "x", "type": "quantitative", "scale": {"type": "log", "domain": [1.64, 125.8], "nice": false},
     "axis": {"title": "number of variables", "values": [2,3,4,5,6,7,8,9,10,20,30,40,50,60,70,80,90,100],
      "labelExpr": "datum.value == 10 ? '10¹' : datum.value == 100 ? '10²' : ''",
      "labelFontSize": {"condition": {"test": "datum.value == 10 || datum.value == 100", "value": 17}, "value": 0},
      "tickSize": {"condition": {"test": "datum.value == 10 || datum.value == 100", "value": 6}, "value": 3.5}}},
    "y": {"field": "y", "type": "quantitative", "scale": {"type": "log", "domain": [172, 3360], "nice": false},
     "axis": {"title": "TTS", "values": [200,300,400,500,600,700,800,900,1000,2000,3000],
      "labelExpr": "datum.value == 1000 ? '10³' : ''",
      "labelFontSize": {"condition": {"test": "datum.value == 1000", "value": 17}, "value": 0},
      "tickSize": {"condition": {"test": "datum.value == 1000", "value": 6}, "value": 3.5}}},
    "color": {"field": "s", "type": "nominal", "scale": {"domain": ["SBa MA","SBa","SBaVLSILab MA","SBaVLSILab"], "range": ["#1f77b4","#ff7f0e","#2ca02c","#d62728"]},
     "legend": {"orient": "top-left", "offset": 8, "title": null, "symbolType": "M-1,0L2.4,0", "symbolSize": 400, "labelFontSize": 14.5, "rowPadding": 4.1, "labelOffset": 27, "padding": 5, "encode": {"symbols": {"update": {"strokeWidth": {"signal": "indexof(datum.value, 'MA') >= 0 ? 2.4 : 1.3"}}}}}},
    "strokeDash": {"field": "s", "type": "nominal", "scale": {"domain": ["SBa MA","SBa","SBaVLSILab MA","SBaVLSILab"], "range": [[1,0],[4,2],[1,0],[4,2]]},
     "legend": {"orient": "top-left", "offset": 8, "title": null, "symbolType": "M-1,0L2.4,0", "symbolSize": 400, "labelFontSize": 14.5, "rowPadding": 4.1, "labelOffset": 27, "padding": 5, "encode": {"symbols": {"update": {"strokeWidth": {"signal": "indexof(datum.value, 'MA') >= 0 ? 2.4 : 1.3"}}}}}},
    "strokeWidth": {"condition": {"test": "indexof(datum.s, 'MA') >= 0", "value": 2}, "value": 1.1}
   }
  }],
  "title": {"text": "(c) TTS evolution for knapsack problems", "orient": "bottom", "anchor": "middle", "font": "Open Sans", "fontSize": 18.5, "fontWeight": "normal", "offset": 30},
  "spacing": 0,
  "resolve": {"scale": {"color": "independent", "strokeDash": "independent"}}},
  {"vconcat": [
   {"width": 10, "height": 22.4, "view": {"stroke": null}, "data": {"values": [{}]}, "mark": {"type": "point", "opacity": 0, "size": 0}, "encoding": {}},
   {
   "width": 335, "height": 250,
   "title": {"text": "Percentage for iteration vs Problem Size", "fontSize": 14.5},
   "data": {"name": "d"},
   "mark": {"type": "line"},
   "encoding": {
    "x": {"field": "x", "type": "quantitative", "scale": {"type": "log", "domain": [1.63, 124], "nice": false},
     "axis": {"title": "number of variables", "values": [2,3,4,5,6,7,8,9,10,20,30,40,50,60,70,80,90,100],
      "labelExpr": "datum.value == 10 ? '10¹' : datum.value == 100 ? '10²' : ''",
      "labelFontSize": {"condition": {"test": "datum.value == 10 || datum.value == 100", "value": 17}, "value": 0},
      "tickSize": {"condition": {"test": "datum.value == 10 || datum.value == 100", "value": 6}, "value": 3.5}}},
    "y": {"field": "y", "type": "quantitative", "scale": {"type": "log", "domain": [0.1267, 0.533], "nice": false},
     "axis": {"title": ["prange", "──────", "NumIter"], "titleFont": "Liberation Serif", "titleFontStyle": "normal", "titleFontSize": 18, "titleLineHeight": 11, "values": [0.2,0.3,0.4,0.5],
      "labelExpr": "datum.value == 0.4 ? '4 × 10⁻¹' : datum.value == 0.3 ? '3 × 10⁻¹' : datum.value == 0.2 ? '2 × 10⁻¹' : ''",
      "labelFontSize": {"condition": {"test": "datum.value != 0.5", "value": 17}, "value": 0},
      "tickSize": 3.5}},
    "color": {"field": "s", "type": "nominal", "scale": {"domain": ["SBa MA","SBa","SBaVLSILab MA","SBaVLSILab"], "range": ["#1f77b4","#ff7f0e","#2ca02c","#d62728"]},
     "legend": {"orient": "bottom-left", "offset": 8, "title": null, "symbolType": "M-1,0L2.41,0", "symbolSize": 289, "labelFontSize": 12.5, "rowPadding": 3.7, "labelOffset": 21, "padding": 5, "encode": {"symbols": {"update": {"strokeWidth": {"signal": "indexof(datum.value, 'MA') >= 0 ? 2.3 : 1.3"}}}}}},
    "strokeDash": {"field": "s", "type": "nominal", "scale": {"domain": ["SBa MA","SBa","SBaVLSILab MA","SBaVLSILab"], "range": [[1,0],[4,2],[1,0],[4,2]]},
     "legend": {"orient": "bottom-left", "offset": 8, "title": null, "symbolType": "M-1,0L2.41,0", "symbolSize": 289, "labelFontSize": 12.5, "rowPadding": 3.7, "labelOffset": 21, "padding": 5, "encode": {"symbols": {"update": {"strokeWidth": {"signal": "indexof(datum.value, 'MA') >= 0 ? 2.3 : 1.3"}}}}}},
    "strokeWidth": {"condition": {"test": "indexof(datum.s, 'MA') >= 0", "value": 2}, "value": 1.1}
   }
  }],
  "title": {"text": "(d) prange/NumIter evolution for knapsack problems", "orient": "bottom", "anchor": "middle", "font": "Open Sans", "fontSize": 17.5, "fontWeight": "normal", "offset": 28},
  "spacing": 0,
  "resolve": {"scale": {"color": "independent", "strokeDash": "independent"}}}
 ], "spacing": 44, "align": "none", "resolve": {"scale": {"color": "independent", "strokeDash": "independent"}}},
 {"hconcat": [
  {"vconcat": [
   {
   "width": 384, "height": 286,
   "title": {"text": "TTS vs Problem Size"},
   "data": {"name": "e"},
   "mark": {"type": "line"},
   "encoding": {
    "x": {"field": "x", "type": "quantitative", "scale": {"type": "log", "domain": [8.01, 91.3], "nice": false},
     "axis": {"title": "number of variables", "values": [9,10,20,30,40,50,60,70,80,90],
      "labelExpr": "datum.value == 10 ? '10¹' : ''",
      "labelFontSize": {"condition": {"test": "datum.value == 10", "value": 17}, "value": 0},
      "tickSize": {"condition": {"test": "datum.value == 10", "value": 6}, "value": 3.5}}},
    "y": {"field": "y", "type": "quantitative", "scale": {"type": "log", "domain": [43000, 1210000], "nice": false},
     "axis": {"title": "TTS", "values": [50000,60000,70000,80000,90000,100000,200000,300000,400000,500000,600000,700000,800000,900000,1000000],
      "labelExpr": "datum.value == 100000 ? '10⁵' : datum.value == 1000000 ? '10⁶' : ''",
      "labelFontSize": {"condition": {"test": "datum.value == 100000 || datum.value == 1000000", "value": 17}, "value": 0},
      "tickSize": {"condition": {"test": "datum.value == 100000 || datum.value == 1000000", "value": 6}, "value": 3.5}}},
    "color": {"field": "s", "type": "nominal", "scale": {"domain": ["SBa MA","SBa","SBaVLSILab MA","SBaVLSILab"], "range": ["#1f77b4","#ff7f0e","#2ca02c","#d62728"]},
     "legend": {"orient": "top-left", "offset": 8, "title": null, "symbolType": "M-1,0L2.4,0", "symbolSize": 400, "labelFontSize": 14.5, "rowPadding": 4.1, "labelOffset": 27, "padding": 5, "encode": {"symbols": {"update": {"strokeWidth": {"signal": "indexof(datum.value, 'MA') >= 0 ? 2.4 : 1.3"}}}}}},
    "strokeDash": {"field": "s", "type": "nominal", "scale": {"domain": ["SBa MA","SBa","SBaVLSILab MA","SBaVLSILab"], "range": [[1,0],[4,2],[1,0],[4,2]]},
     "legend": {"orient": "top-left", "offset": 8, "title": null, "symbolType": "M-1,0L2.4,0", "symbolSize": 400, "labelFontSize": 14.5, "rowPadding": 4.1, "labelOffset": 27, "padding": 5, "encode": {"symbols": {"update": {"strokeWidth": {"signal": "indexof(datum.value, 'MA') >= 0 ? 2.4 : 1.3"}}}}}},
    "strokeWidth": {"condition": {"test": "indexof(datum.s, 'MA') >= 0", "value": 2}, "value": 1.1}
   }
  }],
  "title": {"text": "(e) TTS evolution for traveling salesman problems", "orient": "bottom", "anchor": "middle", "font": "Open Sans", "fontSize": 18.5, "fontWeight": "normal", "offset": 30},
  "spacing": 0,
  "resolve": {"scale": {"color": "independent", "strokeDash": "independent"}}},
  {"vconcat": [
   {"width": 10, "height": 21, "view": {"stroke": null}, "data": {"values": [{}]}, "mark": {"type": "point", "opacity": 0, "size": 0}, "encoding": {}},
   {
   "width": 335, "height": 249,
   "title": {"text": "Percentage for iteration vs Problem Size", "fontSize": 14.5},
   "data": {"name": "f"},
   "mark": {"type": "line"},
   "encoding": {
    "x": {"field": "x", "type": "quantitative", "scale": {"type": "log", "domain": [8.06, 89.1], "nice": false},
     "axis": {"title": "number of variables", "values": [9,10,20,30,40,50,60,70,80],
      "labelExpr": "datum.value == 10 ? '10¹' : ''",
      "labelFontSize": {"condition": {"test": "datum.value == 10", "value": 17}, "value": 0},
      "tickSize": {"condition": {"test": "datum.value == 10", "value": 6}, "value": 3.5}}},
    "y": {"field": "y", "type": "quantitative", "scale": {"type": "log", "domain": [0.00037, 0.00217], "nice": false},
     "axis": {"title": ["prange", "──────", "NumIter"], "titleFont": "Liberation Serif", "titleFontStyle": "normal", "titleFontSize": 18, "titleLineHeight": 11, "values": [0.0004,0.0005,0.0006,0.0007,0.0008,0.0009,0.001,0.002],
      "labelExpr": "datum.value == 0.002 ? '2 × 10⁻³' : datum.value == 0.001 ? '10⁻³' : datum.value == 0.0006 ? '6 × 10⁻⁴' : datum.value == 0.0004 ? '4 × 10⁻⁴' : ''",
      "labelFontSize": {"condition": {"test": "datum.value == 0.002 || datum.value == 0.001 || datum.value == 0.0006 || datum.value == 0.0004", "value": 17}, "value": 0},
      "tickSize": {"condition": {"test": "datum.value == 0.001", "value": 6}, "value": 3.5}}},
    "color": {"field": "s", "type": "nominal", "scale": {"domain": ["SBa MA","SBa","SBaVLSILab MA","SBaVLSILab"], "range": ["#1f77b4","#ff7f0e","#2ca02c","#d62728"]},
     "legend": {"orient": "bottom-left", "offset": 8, "title": null, "symbolType": "M-1,0L2.41,0", "symbolSize": 289, "labelFontSize": 12.5, "rowPadding": 3.7, "labelOffset": 21, "padding": 5, "encode": {"symbols": {"update": {"strokeWidth": {"signal": "indexof(datum.value, 'MA') >= 0 ? 2.3 : 1.3"}}}}}},
    "strokeDash": {"field": "s", "type": "nominal", "scale": {"domain": ["SBa MA","SBa","SBaVLSILab MA","SBaVLSILab"], "range": [[1,0],[4,2],[1,0],[4,2]]},
     "legend": {"orient": "bottom-left", "offset": 8, "title": null, "symbolType": "M-1,0L2.41,0", "symbolSize": 289, "labelFontSize": 12.5, "rowPadding": 3.7, "labelOffset": 21, "padding": 5, "encode": {"symbols": {"update": {"strokeWidth": {"signal": "indexof(datum.value, 'MA') >= 0 ? 2.3 : 1.3"}}}}}},
    "strokeWidth": {"condition": {"test": "indexof(datum.s, 'MA') >= 0", "value": 2}, "value": 1.1}
   }
  }],
  "title": {"text": "(f) prange/NumIter evolution for traveling salesman problems", "orient": "bottom", "anchor": "middle", "font": "Open Sans", "fontSize": 15, "fontWeight": "normal", "offset": 30},
  "spacing": 0,
  "resolve": {"scale": {"color": "independent", "strokeDash": "independent"}}}
 ], "spacing": 44, "align": "none", "resolve": {"scale": {"color": "independent", "strokeDash": "independent"}}}
]
}
